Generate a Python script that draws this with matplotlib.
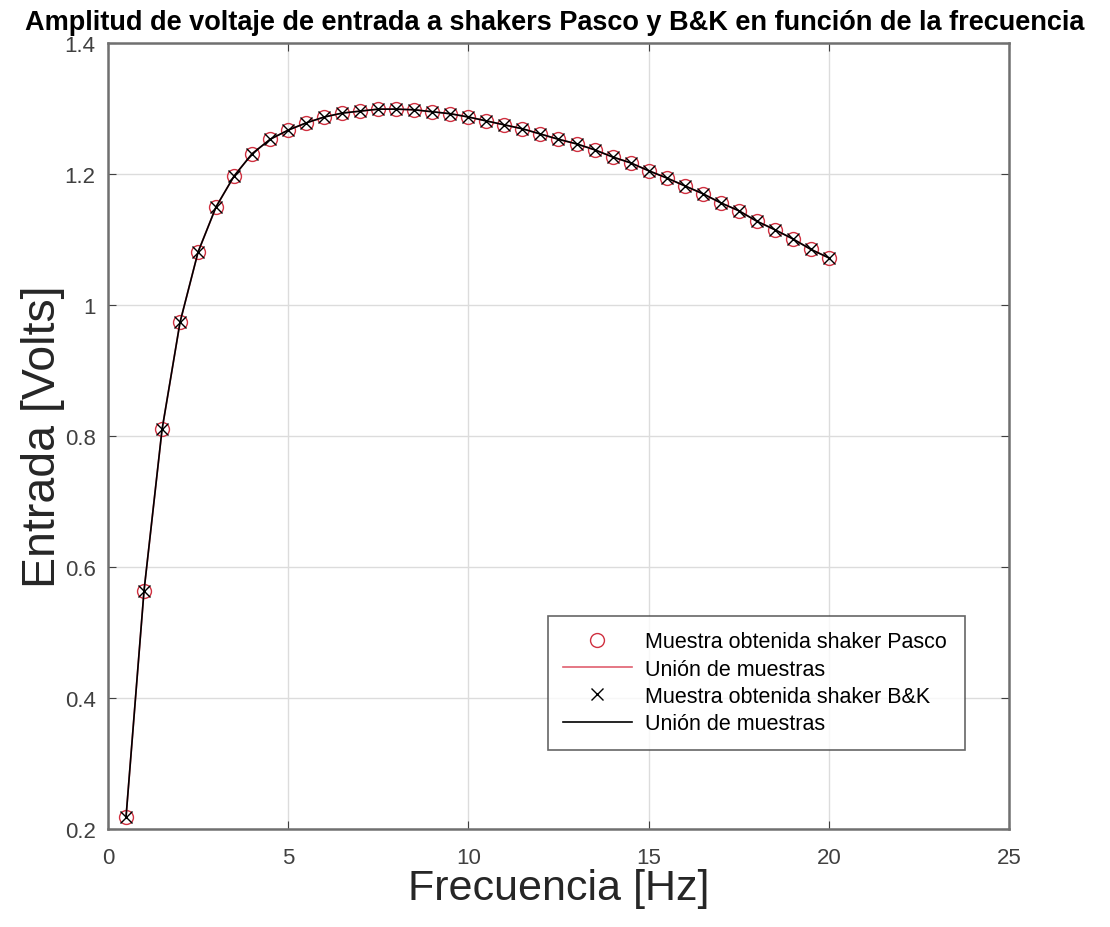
import matplotlib
matplotlib.use("Agg")
import matplotlib.pyplot as plt

plt.rcParams['font.family'] = ['Liberation Sans', 'DejaVu Sans']

freq = [0.5, 1.0, 1.5, 2.0, 2.5, 3.0, 3.5, 4.0, 4.5, 5.0,
        5.5, 6.0, 6.5, 7.0, 7.5, 8.0, 8.5, 9.0, 9.5, 10.0,
        10.5, 11.0, 11.5, 12.0, 12.5, 13.0, 13.5, 14.0, 14.5, 15.0,
        15.5, 16.0, 16.5, 17.0, 17.5, 18.0, 18.5, 19.0, 19.5, 20.0]
pasco = [0.218, 0.564, 0.810, 0.974, 1.081, 1.150, 1.197, 1.231, 1.253, 1.267,
         1.278, 1.287, 1.293, 1.296, 1.299, 1.299, 1.298, 1.295, 1.292, 1.287,
         1.281, 1.275, 1.269, 1.261, 1.253, 1.246, 1.237, 1.226, 1.217, 1.205,
         1.194, 1.182, 1.170, 1.156, 1.144, 1.128, 1.115, 1.101, 1.085, 1.072]
bk = list(pasco)

title = "Amplitud de voltaje de entrada a shakers Pasco y B&K en función de la frecuencia"
xlabel = "Frecuencia [Hz]"
ylabel = "Entrada [Volts]"
xticks = [0, 5, 10, 15, 20, 25]
yticks = [0.2, 0.4, 0.6, 0.8, 1.0, 1.2, 1.4]
yticklabels = ["0.2", "0.4", "0.6", "0.8", "1", "1.2", "1.4"]

fig = plt.figure(figsize=(11.10, 9.28), dpi=100)
ax = fig.add_axes([0.0973, 0.1056, 0.8117, 0.847])

red = '#d03040'
ax.plot(freq, pasco, linestyle='none', marker='o', markersize=10,
        markerfacecolor='none', markeredgecolor=red, markeredgewidth=1.0,
        label='Muestra obtenida shaker Pasco')
ax.plot(freq, pasco, color='#e06070', linewidth=1.2, label='Unión de muestras')
ax.plot(freq, bk, linestyle='none', marker='x', markersize=9,
        color='black', markeredgewidth=1.0, label='Muestra obtenida shaker B&K')
ax.plot(freq, bk, color='black', linewidth=1.2, label='Unión de muestras')

ax.set_xlim(0, 25)
ax.set_ylim(0.2, 1.4)
ax.set_xticks(xticks)
ax.set_yticks(yticks)
ax.set_yticklabels(yticklabels)
ax.grid(True, color='#dcdcdc', linewidth=1.0)
ax.set_axisbelow(True)
ax.tick_params(direction='in', top=True, right=True, length=6,
               labelsize=16, colors='#404040')
ax.tick_params(axis='x', pad=13)
ax.tick_params(axis='y', pad=9)
for s in ax.spines.values():
    s.set_color('#707070')
    s.set_linewidth(1.8)

ax.set_xlabel(xlabel, fontsize=31, color='#262626', labelpad=0)
ax.set_ylabel(ylabel, fontsize=33.5, color='#262626', labelpad=0)
fig.text(0.5, 0.975, title, ha='center', va='center', fontsize=19.5,
         fontweight='bold', color='black')

leg = ax.legend(loc='upper left', bbox_to_anchor=(0.488, 0.271, 0.463, 0.0),
                mode='expand', fontsize=15.5, frameon=True, fancybox=False,
                edgecolor='#404040', borderaxespad=0, handlelength=3.2,
                labelspacing=0.3, handletextpad=0.6, borderpad=0.7)
leg.get_frame().set_linewidth(1.2)

fig.savefig('out.png', dpi=100)
